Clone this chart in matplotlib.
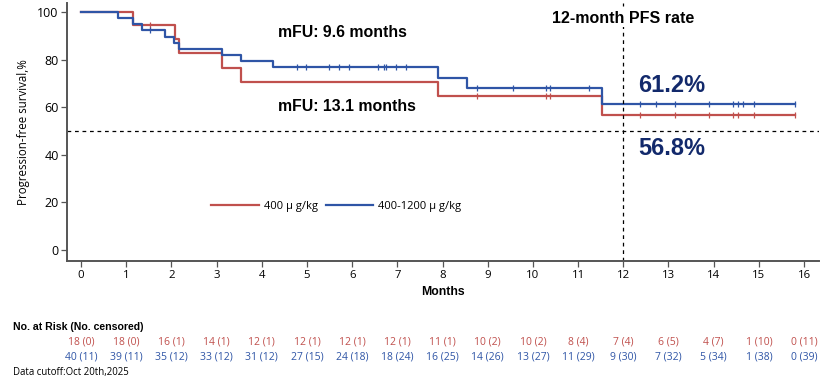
import matplotlib
matplotlib.use("Agg")
import matplotlib.pyplot as plt
import numpy as np

# Kaplan-Meier steps (months, PFS %)
red_times = [0, 1.16, 2.08, 2.17, 3.11, 3.55, 7.89, 11.53]
red_surv = [100, 94.4, 88.5, 82.6, 76.7, 70.8, 64.9, 56.8]
red_censor = [1.53, 8.77, 10.30, 10.38, 12.37, 13.15, 13.90, 14.43, 14.53, 14.90, 15.80]
red_end = 15.8

blue_times = [0, 0.83, 1.16, 1.34, 1.86, 2.06, 2.17, 3.11, 3.55, 4.25, 7.89, 8.55, 11.53]
blue_surv = [100, 97.4, 94.9, 92.3, 89.7, 87.2, 84.6, 82.1, 79.5, 76.9, 72.4, 67.9, 61.2]
blue_censor = [1.53, 4.79, 4.99, 5.49, 5.71, 5.92, 6.58, 6.71, 6.76, 6.98, 7.20,
               8.77, 9.56, 10.30, 10.38, 11.24, 12.37, 12.72, 13.15, 13.90,
               14.43, 14.53, 14.65, 14.90, 15.80]
blue_end = 15.8

months = list(range(17))
red_risk = ["18 (0)", "18 (0)", "16 (1)", "14 (1)", "12 (1)", "12 (1)", "12 (1)", "12 (1)",
            "11 (1)", "10 (2)", "10 (2)", "8 (4)", "7 (4)", "6 (5)", "4 (7)", "1 (10)", "0 (11)"]
blue_risk = ["40 (11)", "39 (11)", "35 (12)", "33 (12)", "31 (12)", "27 (15)", "24 (18)",
             "18 (24)", "16 (25)", "14 (26)", "13 (27)", "11 (29)", "9 (30)", "7 (32)",
             "5 (34)", "1 (38)", "0 (39)"]

RED = "#c0504d"
BLUE = "#2f55a6"
NAVY = "#12296b"
SANS = ["Open Sans", "DejaVu Sans"]
BOLD = ["Liberation Sans", "DejaVu Sans"]


def surv_at(times, surv, t):
    idx = np.searchsorted(times, t, side="right") - 1
    return np.asarray(surv)[idx]


fig = plt.figure(figsize=(8.3, 3.8), dpi=100)
ax = fig.add_axes([0.0807, 0.314, 0.906, 0.678])

for times, surv, cens, end, col, lab in [
    (red_times, red_surv, red_censor, red_end, RED, "400 \u03bc g/kg"),
    (blue_times, blue_surv, blue_censor, blue_end, BLUE, "400-1200 \u03bc g/kg"),
]:
    xs = list(times) + [end]
    ys = list(surv) + [surv[-1]]
    ax.step(xs, ys, where="post", color=col, lw=1.6, label=lab)
    ax.plot(cens, surv_at(times, surv, cens), ls="none", marker="|",
            ms=5, mew=0.9, color=col)

ax.axhline(50, color="black", lw=0.9, ls=(0, (3, 3)))
ax.axvline(12, color="black", lw=0.9, ls=(0, (3, 3)))

ax.set_xlim(-0.31, 16.33)
ax.set_ylim(-4.5, 103.8)
ax.set_xticks(months)
ax.set_yticks([0, 20, 40, 60, 80, 100])
for s in ["top", "right"]:
    ax.spines[s].set_visible(False)
for s in ["left", "bottom"]:
    ax.spines[s].set_color("#555555")
    ax.spines[s].set_linewidth(1.4)
ax.tick_params(axis="both", length=4, width=0.9, color="#555555")
ax.tick_params(axis="y", labelsize=9, pad=2)
ax.tick_params(axis="x", labelsize=8.2, pad=3)
for lbl in ax.get_xticklabels() + ax.get_yticklabels():
    lbl.set_family(SANS)

ax.set_xlabel("Months", family=BOLD, fontweight="bold", fontsize=8.8, labelpad=3)
ax.set_ylabel("Progression-free survival,%", family=SANS, fontsize=8.3, labelpad=5)

leg = ax.legend(loc="center", bbox_to_anchor=(0.358, 0.212), ncol=2, frameon=False,
                handlelength=4.3, handletextpad=0.45, columnspacing=0.7,
                prop={"family": SANS, "size": 8})

# annotations
ax.text(4.35, 91.5, "mFU: 9.6 months", family=BOLD, fontweight="bold", fontsize=11.4,
        va="center", ha="left")
ax.text(4.35, 60.5, "mFU: 13.1 months", family=BOLD, fontweight="bold", fontsize=11.4,
        va="center", ha="left")
ax.text(12, 97.5, "12-month PFS rate", family=BOLD, fontweight="bold", fontsize=11.5,
        va="center", ha="center", bbox=dict(fc="white", ec="none", pad=1))
ax.text(12.33, 69.3, "61.2%", family=BOLD, fontweight="bold", fontsize=17,
        color=NAVY, va="center", ha="left")
ax.text(12.33, 42.7, "56.8%", family=BOLD, fontweight="bold", fontsize=17,
        color=NAVY, va="center", ha="left")

# number at risk table
fig.text(13 / 830, 1 - 327 / 380, "No. at Risk (No. censored)", family=BOLD,
         fontweight="bold", fontsize=7.6, va="center", ha="left")
trans = ax.get_xaxis_transform()
y_red = (260.7 - 342.3) / 257.7
y_blue = (260.7 - 356.7) / 257.7
for m, r, b in zip(months, red_risk, blue_risk):
    ax.text(m, y_red, r, transform=trans, color=RED, family=SANS, fontsize=7.5,
            ha="center", va="center", clip_on=False)
    ax.text(m, y_blue, b, transform=trans, color=BLUE, family=SANS, fontsize=7.5,
            ha="center", va="center", clip_on=False)

fig.text(13 / 830, 1 - 372.7 / 380, "Data cutoff:Oct 20th,2025", family=SANS,
         fontsize=6.9, va="center", ha="left")

fig.savefig("out.png", dpi=100)
